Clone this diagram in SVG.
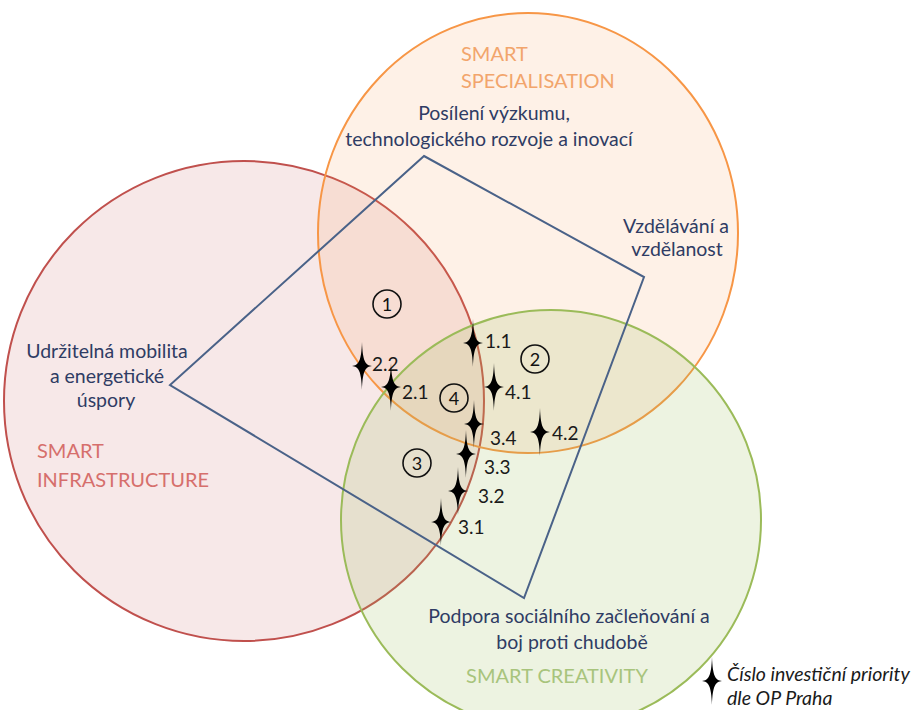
<svg xmlns="http://www.w3.org/2000/svg" xmlns:xlink="http://www.w3.org/1999/xlink" width="919" height="710" viewBox="0 0 919 710">
  <style>
    .txt { font-family: Lato, "Liberation Sans", "DejaVu Sans", sans-serif; }
    .topic { font-size: 19.5px; fill: #2F3C64; text-anchor: middle; }
    .title { font-size: 20px; }
    .num { font-size: 19px; fill: #1a1a1a; }
    .cnum { font-size: 18px; fill: #111; text-anchor: middle; }
    .ring { fill: none; stroke: #111; stroke-width: 1.6; }
    .legend { font-size: 19.5px; font-style: italic; fill: #1a1a1a; }
  </style>
  <defs>
    <!-- four-point sparkle marking an investment priority -->
    <path id="star" d="M0,-24 C0.7,-4.5 3.5,-0.7 10,0 C3.5,0.7 0.7,4.5 0,24 C-0.7,4.5 -3.5,0.7 -10,0 C-3.5,-0.7 -0.7,-4.5 0,-24 Z" fill="#000"/>
  </defs>

  <rect width="919" height="710" fill="#ffffff"/>

  <!-- three overlapping spheres -->
  <g id="smart-infrastructure">
    <circle cx="244" cy="401" r="240" fill="#C0504D" fill-opacity="0.13" stroke="#C0504D" stroke-width="2"/>
  </g>
  <g id="smart-specialisation">
    <ellipse cx="528" cy="233" rx="210" ry="220" fill="#F79646" fill-opacity="0.13" stroke="#F79646" stroke-width="2"/>
  </g>
  <g id="smart-creativity">
    <circle cx="551" cy="520" r="210" fill="#9BBB59" fill-opacity="0.18" stroke="#9BBB59" stroke-width="2"/>
  </g>

  <!-- thematic quadrilateral linking the four topics -->
  <g id="connectors">
    <polygon points="424,156 644,277 524,598 170,385" fill="none" stroke="#4A6288" stroke-width="2"/>
  </g>

  <!-- sphere titles -->
  <g id="title-specialisation" class="txt title" fill="#F2A56C">
    <text x="461" y="61">SMART</text>
    <text x="461" y="88">SPECIALISATION</text>
  </g>
  <g id="title-infrastructure" class="txt title" fill="#D66F6C">
    <text x="37" y="458">SMART</text>
    <text x="37" y="487">INFRASTRUCTURE</text>
  </g>
  <g id="title-creativity" class="txt title" fill="#A8C47C">
    <text x="557" y="683" text-anchor="middle">SMART CREATIVITY</text>
  </g>

  <!-- topics at the corners of the quadrilateral -->
  <g id="topic-research" class="txt topic">
    <text x="494" y="120">Posílení výzkumu,</text>
    <text x="489" y="146">technologického rozvoje a inovací</text>
  </g>
  <g id="topic-education" class="txt topic">
    <text x="676" y="233">Vzdělávání a</text>
    <text x="677" y="256">vzdělanost</text>
  </g>
  <g id="topic-mobility" class="txt topic">
    <text x="107" y="358">Udržitelná mobilita</text>
    <text x="107" y="383">a energetické</text>
    <text x="106" y="407">úspory</text>
  </g>
  <g id="topic-inclusion" class="txt topic">
    <text x="569" y="623">Podpora sociálního začleňování a</text>
    <text x="572" y="649">boj proti chudobě</text>
  </g>

  <!-- numbered intersection zones -->
  <g id="zone-1"><circle class="ring" cx="387" cy="304" r="14"/><text class="txt cnum" x="387" y="310.5">1</text></g>
  <g id="zone-2"><circle class="ring" cx="535" cy="359" r="14"/><text class="txt cnum" x="535" y="365.5">2</text></g>
  <g id="zone-3"><circle class="ring" cx="417" cy="463" r="14"/><text class="txt cnum" x="417" y="469.5">3</text></g>
  <g id="zone-4"><circle class="ring" cx="454" cy="398" r="14"/><text class="txt cnum" x="454" y="404.5">4</text></g>

  <!-- investment priorities -->
  <g id="ip-1-1"><use xlink:href="#star" x="473" y="343"/><text class="txt num" x="485" y="348">1.1</text></g>
  <g id="ip-2-2"><use xlink:href="#star" x="362" y="366"/><text class="txt num" x="372" y="371">2.2</text></g>
  <g id="ip-2-1"><use xlink:href="#star" x="391" y="387"/><text class="txt num" x="402" y="399">2.1</text></g>
  <g id="ip-4-1"><use xlink:href="#star" x="494" y="387"/><text class="txt num" x="505" y="399">4.1</text></g>
  <g id="ip-3-4"><use xlink:href="#star" x="474" y="424"/><text class="txt num" x="490" y="445">3.4</text></g>
  <g id="ip-4-2"><use xlink:href="#star" x="540" y="432"/><text class="txt num" x="552" y="440">4.2</text></g>
  <g id="ip-3-3"><use xlink:href="#star" x="466" y="454"/><text class="txt num" x="484" y="474">3.3</text></g>
  <g id="ip-3-2"><use xlink:href="#star" x="458" y="491"/><text class="txt num" x="478" y="503">3.2</text></g>
  <g id="ip-3-1"><use xlink:href="#star" x="441" y="522"/><text class="txt num" x="458" y="534">3.1</text></g>

  <!-- legend -->
  <g id="legend">
    <use xlink:href="#star" x="712" y="681"/>
    <text class="txt legend" x="727" y="681">Číslo investiční priority</text>
    <text class="txt legend" x="727" y="705">dle OP Praha</text>
  </g>
</svg>
